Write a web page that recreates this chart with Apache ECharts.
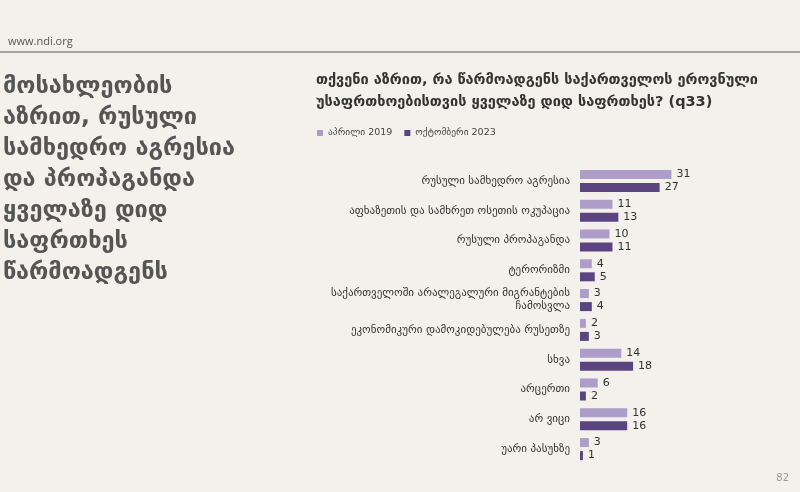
<!DOCTYPE html>
<html>
<head>
<meta charset="utf-8">
<script src="https://cdn.jsdelivr.net/npm/echarts@6/dist/echarts.min.js"></script>
<style>
  html, body { margin: 0; padding: 0; background: #f4f1ec; }
  #chart { width: 800px; height: 492px; }
</style>
</head>
<body>
<div id="chart"></div>
<script>
// Survey q33: biggest threat to Georgia's national security, two waves.
const categories = [
  'რუსული სამხედრო აგრესია',
  'აფხაზეთის და სამხრეთ ოსეთის ოკუპაცია',
  'რუსული პროპაგანდა',
  'ტერორიზმი',
  'საქართველოში არალეგალური მიგრანტების\nჩამოსვლა',
  'ეკონომიკური დამოკიდებულება რუსეთზე',
  'სხვა',
  'არცერთი',
  'არ ვიცი',
  'უარი პასუხზე'
];
const seriesNames = ['აპრილი 2019', 'ოქტომბერი 2023'];
const april2019 = [31, 11, 10, 4, 3, 2, 14, 6, 16, 3];
const october2023 = [27, 13, 11, 5, 4, 3, 18, 2, 16, 1];
const sideTitle = [
  'მოსახლეობის',
  'აზრით, რუსული',
  'სამხედრო აგრესია',
  'და პროპაგანდა',
  'ყველაზე დიდ',
  'საფრთხეს',
  'წარმოადგენს'
];
const question = 'თქვენი აზრით, რა წარმოადგენს საქართველოს ეროვნული\nუსაფრთხოებისთვის ყველაზე დიდ საფრთხეს? (q33)';

const FONT = '"DejaVu Sans", sans-serif';
const colors = ['#ad9dc8', '#5b4581'];

const chart = echarts.init(document.getElementById('chart'));

function bar(name, data, color) {
  return {
    name,
    type: 'bar',
    data,
    barWidth: 9,
    barGap: '45%',
    itemStyle: { color },
    label: {
      show: true,
      position: 'right',
      distance: 5,
      fontFamily: FONT,
      fontSize: 11,
      color: '#333'
    }
  };
}

chart.setOption({
  animation: false,
  backgroundColor: '#f4f1ec',
  title: [
    {
      text: 'www.ndi.org',
      left: 3, top: 31,
      textStyle: { fontFamily: '"Open Sans", sans-serif', fontSize: 11, fontWeight: 'normal', color: '#555' }
    },
    {
      text: sideTitle.join('\n'),
      left: -2, top: 66,
      textStyle: { fontFamily: FONT, fontSize: 23.5, fontWeight: 'bold', color: '#555', lineHeight: 31 }
    },
    {
      text: question,
      left: 311, top: 64,
      textStyle: { fontFamily: FONT, fontSize: 14.5, fontWeight: 'bold', color: '#333', lineHeight: 22 }
    },
    {
      text: '82',
      right: 6, top: 468,
      textStyle: { fontFamily: FONT, fontSize: 10, fontWeight: 'normal', color: '#999' }
    }
  ],
  graphic: [
    {
      type: 'line',
      shape: { x1: 0, y1: 52, x2: 800, y2: 52 },
      style: { stroke: '#a5a5a5', lineWidth: 2 }
    }
  ],
  legend: {
    data: seriesNames,
    left: 312, top: 123,
    icon: 'rect',
    itemWidth: 6, itemHeight: 6, itemGap: 12,
    textStyle: { fontFamily: FONT, fontSize: 9.5, color: '#444' }
  },
  grid: { left: 580, right: 43, top: 166, bottom: 28 },
  xAxis: {
    type: 'value',
    min: 0, max: 60,
    show: false
  },
  yAxis: {
    type: 'category',
    data: categories,
    inverse: true,
    axisLine: { show: false },
    axisTick: { show: false },
    axisLabel: {
      margin: 10,
      fontFamily: FONT,
      fontSize: 11,
      color: '#333',
      lineHeight: 13,
      align: 'right'
    }
  },
  series: [
    bar(seriesNames[0], april2019, colors[0]),
    bar(seriesNames[1], october2023, colors[1])
  ]
});
</script>
</body>
</html>
